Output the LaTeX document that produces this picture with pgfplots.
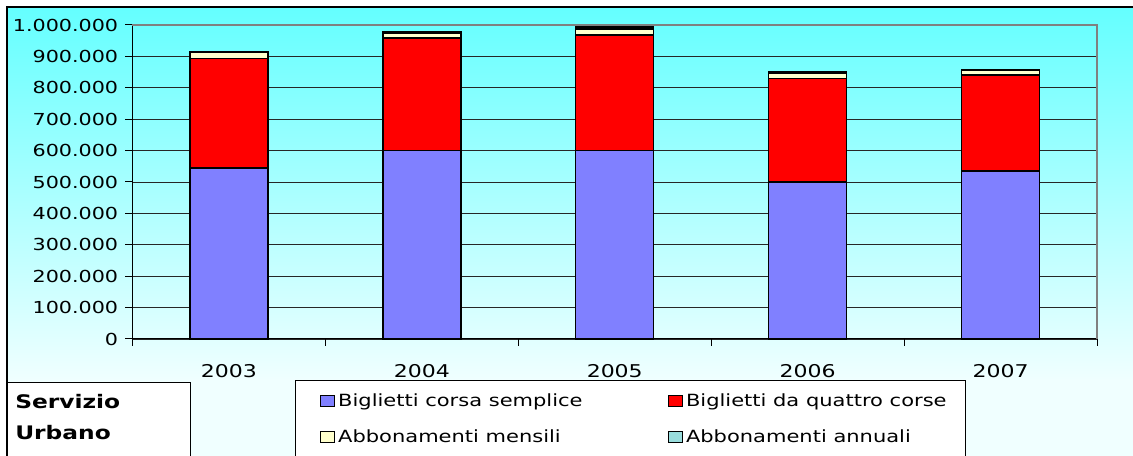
\documentclass[border=0pt]{standalone}
\usepackage{pgfplots}
\pgfplotsset{compat=1.18}
\usepackage{fontspec}
\setmainfont[FakeStretch=1.25]{DejaVu Sans}
\definecolor{cBlue}{RGB}{128,128,255}
\definecolor{cRed}{RGB}{255,0,0}
\definecolor{cYel}{RGB}{255,255,204}
\definecolor{cTeal}{RGB}{153,221,221}
\definecolor{bgTop}{RGB}{100,255,255}
\definecolor{bgBot}{RGB}{240,255,255}
\pgfplotsset{legsq/.style={legend image code/.code={\draw[##1,draw=black,line width=0.75pt] (0pt,-4.1pt) rectangle (10.5pt,4.1pt);}}}
\begin{document}
\begin{tikzpicture}[x=0.75pt,y=0.75pt]
\useasboundingbox (0,0) rectangle (1133,456);
\clip (0,0) rectangle (1133,456);
\fill[white] (0,0) rectangle (1133,456);
\shade[top color=bgTop, bottom color=bgBot] (7,76) rectangle (1133,449);
\fill[bgBot] (7,-1) rectangle (1133,76.2);
\draw[black, line width=1.1pt] (7,-5) -- (7,449) -- (1140,449);
% Servizio box
\draw[black, line width=0.75pt, fill=white] (7,-5) rectangle (190,73);
\node[anchor=west, inner sep=0pt, font=\bfseries\fontsize{14}{16}\selectfont] at (15,54) {Servizio};
\node[anchor=west, inner sep=0pt, font=\bfseries\fontsize{14}{16}\selectfont] at (15,23) {Urbano};
% legend frame
\draw[black, line width=0.75pt, fill=white] (295,-5) rectangle (965,75);
\begin{axis}[
  at={(99.375pt,87.75pt)}, anchor=south west,
  scale only axis, width=723.375pt, height=235.5pt,
  ybar stacked, bar width=58.5pt,
  xmin=-0.5, xmax=4.5, ymin=0, ymax=1000000,
  clip=false,
  xtick={0,1,2,3,4}, xticklabels={2003,2004,2005,2006,2007},
  minor xtick={-0.5,0.5,1.5,2.5,3.5,4.5},
  ytick={0,100000,200000,300000,400000,500000,600000,700000,800000,900000,1000000},
  scaled y ticks=false,
  yticklabel style={/pgf/number format/fixed, /pgf/number format/1000 sep={.}, /pgf/number format/assume math mode=true, xshift=-2pt},
  axis x line*=bottom, axis y line*=left,
  axis line style={black, line width=0.75pt},
  tick align=outside,
  major tick length=5.25pt, minor tick length=5.25pt,
  major x tick style={draw=none},
  minor x tick style={black, line width=0.75pt},
  ytick style={black, line width=0.75pt},
  ymajorgrids, grid style={black!85, line width=0.6pt},
  tick label style={font=\fontsize{12.4}{14}\selectfont},
  xticklabel style={font=\fontsize{13.2}{15}\selectfont, yshift=-10.5pt},
  legend columns=2,
  legend cell align=left,
  legend style={at={(0.1944,-0.1401)}, anchor=north west, draw=none, fill=none,
    inner sep=0pt, outer sep=0pt, font=\fontsize{12.6}{14}\selectfont,
    nodes={inner xsep=2.4pt, inner ysep=0pt, minimum height=27pt},
    /tikz/every even column/.append style={column sep=61.5pt}},
]
\addplot[fill=cBlue, draw=black, line width=1.1pt, legsq] coordinates {(0,544000) (1,601000) (2,601000) (3,500000) (4,535000)};
\addlegendentry{Biglietti corsa semplice}
\addplot[fill=cRed, draw=black, line width=1.1pt, legsq] coordinates {(0,350000) (1,357000) (2,367000) (3,330000) (4,306000)};
\addlegendentry{Biglietti da quattro corse}
\addplot[fill=cYel, draw=black, line width=1.1pt, legsq] coordinates {(0,19000) (1,16000) (2,19000) (3,16000) (4,16000)};
\addlegendentry{Abbonamenti mensili}
\addplot[fill=cTeal, draw=black, line width=1.1pt, legsq] coordinates {(0,1000) (1,5000) (2,7000) (3,5000) (4,2000)};
\addlegendentry{Abbonamenti annuali}
\draw[black!50, line width=1.3pt] (rel axis cs:0,1) -- (rel axis cs:1,1) -- (rel axis cs:1,0);
\end{axis}
\end{tikzpicture}
\end{document}
